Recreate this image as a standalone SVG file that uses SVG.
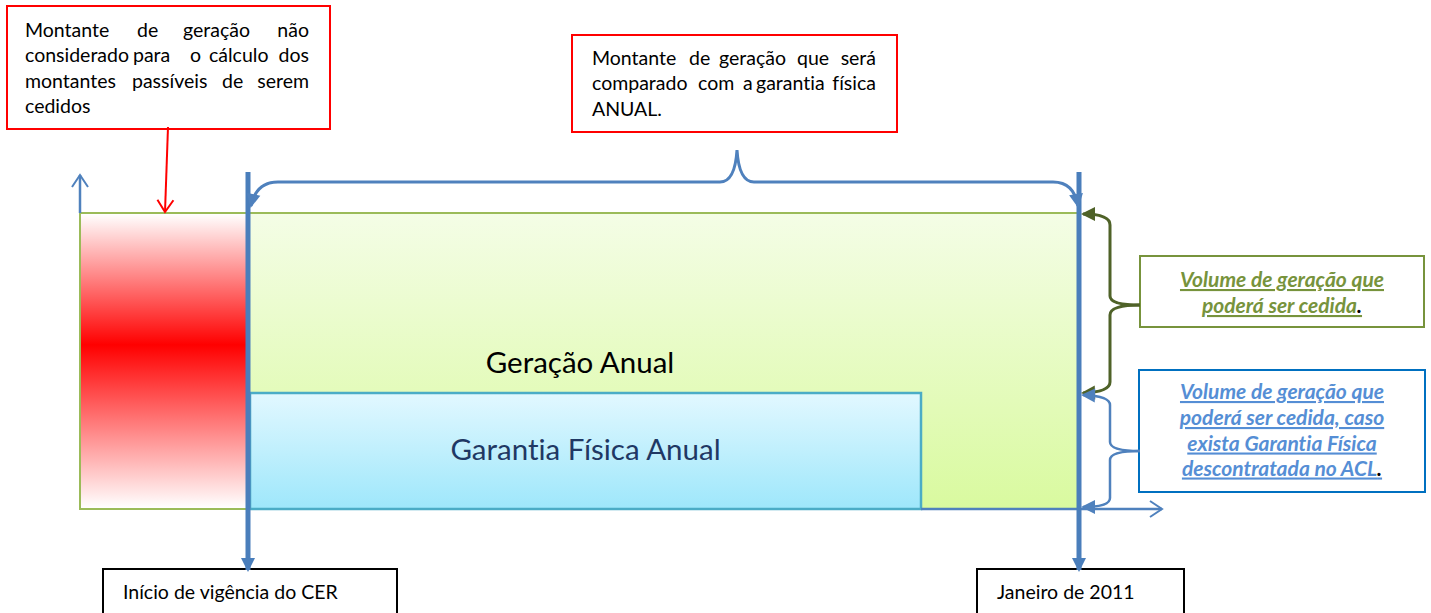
<svg xmlns="http://www.w3.org/2000/svg" width="1431" height="613" viewBox="0 0 1431 613">
<style>
text{font-family:Lato,"Open Sans","Liberation Sans",sans-serif;font-variant-ligatures:none;}
.box{font-size:19.5px;fill:#000;}
.big{font-size:29.5px;}
.note{font-size:21px;font-weight:bold;font-style:italic;text-decoration:underline;}
</style>
<defs>
<linearGradient id="gGreen" x1="0" y1="0" x2="0" y2="1">
<stop offset="0" stop-color="#f4fde6"/><stop offset="1" stop-color="#d9fa9f"/>
</linearGradient>
<linearGradient id="gRed" x1="0" y1="0" x2="0" y2="1">
<stop offset="0" stop-color="#ffffff"/><stop offset="0.445" stop-color="#ff0000"/><stop offset="1" stop-color="#ffffff"/>
</linearGradient>
<linearGradient id="gBlue" x1="0" y1="0" x2="0" y2="1">
<stop offset="0" stop-color="#e2f8ff"/><stop offset="1" stop-color="#9ee7fb"/>
</linearGradient>
<marker id="openRed" markerWidth="12" markerHeight="12" refX="10" refY="6" orient="auto" markerUnits="userSpaceOnUse" viewBox="0 0 12 12" overflow="visible">
<path d="M-2,-2 L10,6 L-2,14" fill="none" stroke="#ff0000" stroke-width="2"/>
</marker>
<marker id="openBlue" markerWidth="12" markerHeight="12" refX="10" refY="6" orient="auto" markerUnits="userSpaceOnUse" viewBox="0 0 12 12" overflow="visible">
<path d="M-2,-2 L10,6 L-2,14" fill="none" stroke="#4f81bd" stroke-width="2"/>
</marker>
<marker id="fillBlue" markerWidth="14" markerHeight="14" refX="12" refY="7" orient="auto" markerUnits="userSpaceOnUse" overflow="visible">
<path d="M0,0 L14,7 L0,14 Z" fill="#4a7ebb"/>
</marker>
<marker id="fillBlueS" markerWidth="14" markerHeight="14" refX="12" refY="7" orient="auto" markerUnits="userSpaceOnUse" overflow="visible">
<path d="M0,0 L14,7 L0,14 Z" fill="#4f81bd"/>
</marker>
<marker id="fillGreen" markerWidth="14" markerHeight="14" refX="12" refY="7" orient="auto" markerUnits="userSpaceOnUse" overflow="visible">
<path d="M0,0 L14,7 L0,14 Z" fill="#4f6228"/>
</marker>
</defs>
<rect width="1431" height="613" fill="#ffffff"/>

<g id="chart">
<rect x="80" y="213" width="1000" height="296" fill="url(#gGreen)" stroke="#9bbb59" stroke-width="2"/>
<rect x="81" y="214" width="167" height="294" fill="url(#gRed)"/>
<rect x="250" y="393" width="671" height="116" fill="url(#gBlue)" stroke="#4bacc6" stroke-width="2.5"/>
<line x1="921" y1="509" x2="1080" y2="509" stroke="#4f81bd" stroke-width="2.5"/>
<text class="big" x="580" y="372.5" text-anchor="middle" fill="#000">Geração Anual</text>
<text class="big" x="585.5" y="460" text-anchor="middle" fill="#1f3864">Garantia Física Anual</text>
</g>

<g id="box-nao-considerado">
<rect x="7" y="6" width="323" height="123" fill="#ffffff" stroke="#ff0000" stroke-width="2"/>
<text class="box" y="36.5"><tspan x="25">Montante</tspan><tspan x="137">de</tspan><tspan x="183">geração</tspan></text>
<text class="box" x="309" y="36.5" text-anchor="end">não</text>
<text class="box" y="62"><tspan x="25">considerado</tspan><tspan x="133">para</tspan><tspan x="190">o</tspan><tspan x="209">cálculo</tspan></text>
<text class="box" x="309" y="62" text-anchor="end">dos</text>
<text class="box" y="87.5"><tspan x="25">montantes</tspan><tspan x="132">passíveis</tspan><tspan x="222">de</tspan></text>
<text class="box" x="309" y="87.5" text-anchor="end">serem</text>
<text class="box" x="25" y="113">cedidos</text>
</g>

<g id="box-comparado">
<rect x="572" y="35" width="325" height="97" fill="#ffffff" stroke="#ff0000" stroke-width="2"/>
<text class="box" y="65"><tspan x="592">Montante</tspan><tspan x="689">de</tspan><tspan x="719">geração</tspan><tspan x="797">que</tspan></text>
<text class="box" x="876" y="65" text-anchor="end">será</text>
<text class="box" y="90"><tspan x="592">comparado</tspan><tspan x="698">com</tspan><tspan x="743">a</tspan><tspan x="756">garantia</tspan></text>
<text class="box" x="876" y="90" text-anchor="end">física</text>
<text class="box" x="592" y="115.5">ANUAL.</text>
</g>

<g id="box-cedida">
<rect x="1140" y="256" width="284" height="71" fill="#ffffff" stroke="#77933c" stroke-width="2"/>
<text class="note" x="1282" y="287" text-anchor="middle" fill="#77933c">Volume de geração que</text>
<text class="note" x="1282" y="313" text-anchor="middle" fill="#77933c">poderá ser cedida<tspan fill="#000">.</tspan></text>
</g>

<g id="box-caso">
<rect x="1139" y="370" width="286" height="122" fill="#ffffff" stroke="#0070c0" stroke-width="2"/>
<text class="note" x="1282" y="399" text-anchor="middle" fill="#558ed5">Volume de geração que</text>
<text class="note" x="1282" y="425" text-anchor="middle" fill="#558ed5">poderá ser cedida, caso</text>
<text class="note" x="1282" y="450.5" text-anchor="middle" fill="#558ed5">exista Garantia Física</text>
<text class="note" x="1282" y="475.5" text-anchor="middle" fill="#558ed5">descontratada no ACL<tspan fill="#000">.</tspan></text>
</g>

<g id="box-inicio">
<rect x="103" y="569" width="294" height="50" fill="#ffffff" stroke="#000" stroke-width="2"/>
<text class="box" x="123" y="599">Início de vigência do CER</text>
</g>

<g id="box-janeiro">
<rect x="977" y="569" width="207" height="50" fill="#ffffff" stroke="#000" stroke-width="2"/>
<text class="box" x="997" y="599">Janeiro de 2011</text>
</g>

<g id="connectors" fill="none">
<line x1="168" y1="127" x2="165" y2="212" stroke="#ff0000" stroke-width="2" marker-end="url(#openRed)"/>
<line x1="80" y1="213" x2="80" y2="175" stroke="#4f81bd" stroke-width="2.5" marker-end="url(#openBlue)"/>
<line x1="1080" y1="509" x2="1162" y2="509" stroke="#4f81bd" stroke-width="2.5" marker-end="url(#openBlue)"/>
<line x1="248" y1="172" x2="248" y2="570" stroke="#4a7ebb" stroke-width="5" marker-end="url(#fillBlue)"/>
<line x1="1079" y1="172" x2="1079" y2="570" stroke="#4a7ebb" stroke-width="5" marker-end="url(#fillBlue)"/>
<path d="M720,182 Q735,182 737,150 Q739,182 754,182 L1053,182 Q1074,182 1078,206" stroke="#4f81bd" stroke-width="3" marker-end="url(#fillBlueS)"/>
<path d="M720,182 L278,182 Q256,182 251,206" stroke="#4f81bd" stroke-width="3" marker-end="url(#fillBlueS)"/>
<path d="M1140,305 Q1110,305 1110,296 L1110,225 Q1110,214 1083,214" stroke="#4f6228" stroke-width="3" marker-end="url(#fillGreen)"/>
<path d="M1140,305 Q1110,305 1110,315 L1110,382 Q1110,392 1083,393" stroke="#4f6228" stroke-width="3" marker-end="url(#fillGreen)"/>
<path d="M1140,451 Q1110,451 1110,442 L1110,405 Q1110,396 1083,395" stroke="#4f81bd" stroke-width="2.5" marker-end="url(#fillBlueS)"/>
<path d="M1140,451 Q1110,451 1110,460 L1110,498 Q1110,507 1083,507" stroke="#4f81bd" stroke-width="2.5" marker-end="url(#fillBlueS)"/>
</g>
</svg>
